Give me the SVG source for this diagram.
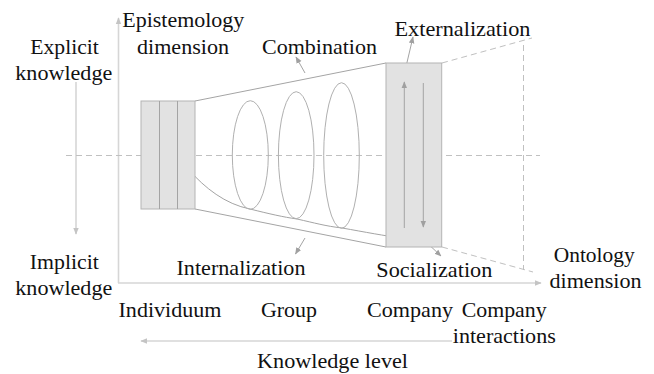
<svg xmlns="http://www.w3.org/2000/svg" width="654" height="374" viewBox="0 0 654 374">
  <defs>
    <marker id="ah" viewBox="0 0 10 10" refX="9" refY="5" markerWidth="7" markerHeight="7" orient="auto-start-reverse" markerUnits="userSpaceOnUse">
      <path d="M0,1 L10,5 L0,9 Z" fill="#a0a0a0"/>
    </marker>
    <marker id="ahl" viewBox="0 0 10 10" refX="9" refY="5" markerWidth="7" markerHeight="7" orient="auto-start-reverse" markerUnits="userSpaceOnUse">
      <path d="M0,1 L10,5 L0,9 Z" fill="#c4c4c4"/>
    </marker>
    <style>
      .lbl { font-size: 21px; fill: #111; text-anchor: middle; }
      .axis { stroke: #d6d6d6; stroke-width: 1.6; fill: none; }
      .thin { stroke: #a4a4a4; stroke-width: 1; fill: none; }
      .dash { stroke: #c0c0c0; stroke-width: 1; fill: none; stroke-dasharray: 6 4; }
      .block { fill: #e2e2e2; stroke: #b4b4b4; stroke-width: 1; }
      .ring { fill: none; stroke: #b0b0b0; stroke-width: 1; }
    </style>
  </defs>
  <rect width="654" height="374" fill="#ffffff"/>

  <!-- axes and guide lines -->
  <g id="connectors">
    <line class="axis" x1="118.5" y1="283" x2="118.5" y2="18" marker-end="url(#ahl)"/>
    <line class="axis" x1="118" y1="283" x2="541" y2="283" marker-end="url(#ahl)"/>
    <line class="axis" x1="76" y1="82" x2="76" y2="234" marker-end="url(#ahl)"/>
    <line class="axis" x1="452" y1="341" x2="141" y2="341" marker-end="url(#ahl)"/>
    <line class="dash" x1="66" y1="155.5" x2="540" y2="155.5"/>

    <!-- funnel outline -->
    <line class="thin" x1="195" y1="101" x2="386" y2="63"/>
    <line class="thin" x1="195" y1="209" x2="386" y2="247"/>
    <line class="dash" x1="442" y1="63" x2="532" y2="38"/>
    <line class="dash" x1="442" y1="247" x2="533" y2="272"/>
    <line class="dash" x1="523.5" y1="45" x2="523.5" y2="270"/>

    <!-- internalization path through the rings -->
    <path class="thin" d="M189,170 C205,188 225,204 250,209 C270,214 283,217 297,219 C315,223 325,226 342,228 C365,232 385,236 402,238" marker-start="url(#ah)" marker-end="url(#ah)"/>

    <!-- label pointers -->
    <line class="thin" x1="305" y1="73" x2="296" y2="57" marker-end="url(#ah)"/>
    <line class="thin" x1="404.5" y1="73" x2="413" y2="37" marker-end="url(#ah)"/>
    <line class="thin" x1="305" y1="238" x2="295.5" y2="254" marker-end="url(#ah)"/>
    <line class="thin" x1="416.5" y1="233" x2="441" y2="256" marker-end="url(#ah)"/>
  </g>

  <!-- individual level block -->
  <g id="individual-block">
    <rect class="block" x="141" y="101" width="54" height="108"/>
    <line class="thin" x1="159.5" y1="101" x2="159.5" y2="209"/>
    <line class="thin" x1="177.5" y1="101" x2="177.5" y2="209"/>
  </g>

  <!-- group rings -->
  <g id="group-rings">
    <ellipse class="ring" cx="250.3" cy="155" rx="18" ry="54.3"/>
    <ellipse class="ring" cx="296.2" cy="155.2" rx="17.8" ry="63.5"/>
    <ellipse class="ring" cx="341.5" cy="155.5" rx="17.8" ry="72.8"/>
  </g>

  <!-- company block -->
  <g id="company-block">
    <rect class="block" x="386" y="63" width="55.7" height="184"/>
    <line class="thin" x1="404.3" y1="228" x2="404.3" y2="82" marker-end="url(#ah)"/>
    <line class="thin" x1="423.3" y1="83" x2="423.3" y2="227" marker-end="url(#ah)"/>
  </g>

  <!-- labels -->
  <g id="labels" font-family="'Liberation Serif', 'DejaVu Serif', serif">
    <text class="lbl" x="183.3" y="27" textLength="122" lengthAdjust="spacingAndGlyphs">Epistemology</text>
    <text class="lbl" x="183" y="54" textLength="92" lengthAdjust="spacingAndGlyphs">dimension</text>
    <text class="lbl" x="64.6" y="54" textLength="68.5" lengthAdjust="spacingAndGlyphs">Explicit</text>
    <text class="lbl" x="63.8" y="80" textLength="97" lengthAdjust="spacingAndGlyphs">knowledge</text>
    <text class="lbl" x="319.5" y="54" textLength="115" lengthAdjust="spacingAndGlyphs">Combination</text>
    <text class="lbl" x="462.5" y="36" textLength="136" lengthAdjust="spacingAndGlyphs">Externalization</text>
    <text class="lbl" x="64.3" y="269" textLength="69" lengthAdjust="spacingAndGlyphs">Implicit</text>
    <text class="lbl" x="63.8" y="295" textLength="97" lengthAdjust="spacingAndGlyphs">knowledge</text>
    <text class="lbl" x="241" y="275" textLength="129" lengthAdjust="spacingAndGlyphs">Internalization</text>
    <text class="lbl" x="434.3" y="276.5" textLength="116" lengthAdjust="spacingAndGlyphs">Socialization</text>
    <text class="lbl" x="594.2" y="261.5" textLength="81" lengthAdjust="spacingAndGlyphs">Ontology</text>
    <text class="lbl" x="595.5" y="287.5" textLength="92" lengthAdjust="spacingAndGlyphs">dimension</text>
    <text class="lbl" x="170" y="316.5" textLength="103" lengthAdjust="spacingAndGlyphs">Individuum</text>
    <text class="lbl" x="289" y="316.5" textLength="56" lengthAdjust="spacingAndGlyphs">Group</text>
    <text class="lbl" x="410" y="316.5" textLength="86" lengthAdjust="spacingAndGlyphs">Company</text>
    <text class="lbl" x="504.2" y="316.5" textLength="85" lengthAdjust="spacingAndGlyphs">Company</text>
    <text class="lbl" x="504.3" y="343" textLength="103" lengthAdjust="spacingAndGlyphs">interactions</text>
    <text class="lbl" x="332.5" y="368" textLength="151" lengthAdjust="spacingAndGlyphs">Knowledge level</text>
  </g>
</svg>
